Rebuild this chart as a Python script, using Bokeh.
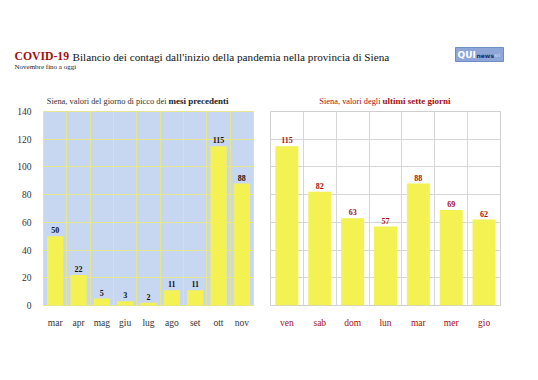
from bokeh.plotting import figure
from bokeh.layouts import column, row
from bokeh.models import Range1d, FixedTicker, ColumnDataSource
from bokeh.core.properties import value
from bokeh.embed import file_html
from bokeh.resources import INLINE

# ---- data ----
months = ["mar", "apr", "mag", "giu", "lug", "ago", "set", "ott", "nov"]
month_peaks = [50, 22, 5, 3, 2, 11, 11, 115, 88]
days = ["ven", "sab", "dom", "lun", "mar", "mer", "gio"]
day_values = [115, 82, 63, 57, 88, 69, 62]
y_ticks = [0, 20, 40, 60, 80, 100, 120, 140]

SERIF = value("Liberation Serif")
FONT = "Liberation Serif"
YELLOW = "#f4f152"
DARKRED = "#a50e0e"

# ---- header (title, subtitle, section titles, logo) ----
hdr = figure(width=530, height=107, x_range=Range1d(0, 530), y_range=Range1d(107, 0),
             output_backend="svg", toolbar_location=None, min_border=0)
hdr.axis.visible = False
hdr.grid.visible = False
hdr.outline_line_color = None

hdr.text(x=[14], y=[56], text=["COVID-19"], text_font=SERIF, text_font_size="11.7px",
         text_font_style="bold", text_color=DARKRED, text_baseline="alphabetic")
hdr.text(x=[72], y=[56], text=["Bilancio dei contagi dall'inizio della pandemia nella provincia di Siena"],
         text_font=SERIF, text_font_size="11.2px", text_color="#111111", text_baseline="alphabetic")
hdr.text(x=[14], y=[66], text=["Novembre fino a oggi"], text_font=SERIF, text_font_size="7px",
         text_color="#222222", text_baseline="alphabetic")

hdr.text(x=[166], y=[100.5], text=["Siena, valori del giorno di picco dei"], text_font=SERIF,
         text_font_size="8.4px", text_color="#333333", text_align="right", text_baseline="alphabetic")
hdr.text(x=[168], y=[100.5], text=["mesi precedenti"], text_font=SERIF, text_font_size="9px",
         text_font_style="bold", text_color="#222222", text_align="left", text_baseline="alphabetic")
hdr.text(x=[380], y=[100.5], text=["Siena, valori degli"], text_font=SERIF,
         text_font_size="8.4px", text_color=DARKRED, text_align="right", text_baseline="alphabetic")
hdr.text(x=[382], y=[100.5], text=["ultimi sette giorni"], text_font=SERIF, text_font_size="9px",
         text_font_style="bold", text_color=DARKRED, text_align="left", text_baseline="alphabetic")

# logo
hdr.quad(left=[455], right=[503], top=[47], bottom=[61], fill_color="#8ea7d8",
         line_color="#6f8cc4", line_width=1)
hdr.text(x=[457], y=[54], text=["QUI"], text_font=value("DejaVu Sans"), text_font_size="9px",
         text_font_style="bold", text_color="white", text_baseline="middle")
hdr.text(x=[476], y=[55], text=["news"], text_font=value("DejaVu Sans"), text_font_size="6px",
         text_font_style="bold", text_color="#1c2f66", text_baseline="middle")
hdr.text(x=[494], y=[55], text=["srl"], text_font=value("DejaVu Sans"), text_font_size="4.5px",
         text_color="#dde6f7", text_baseline="middle")


def make_chart(cats, vals, width, border_left, border_right, bg, grid_color, outline,
               label_color, tick_color, show_y):
    n = len(cats)
    centers = [i + 0.5 for i in range(n)]
    src = ColumnDataSource(dict(x=centers, v=vals, t=[str(v) for v in vals]))
    p = figure(width=width, height=233, x_range=Range1d(0, n), y_range=Range1d(0, 140),
               output_backend="svg", toolbar_location=None,
               min_border_left=border_left, min_border_right=border_right,
               min_border_top=4, min_border_bottom=35)
    p.background_fill_color = bg
    p.border_fill_color = "white"
    p.outline_line_color = outline
    p.vbar(x="x", top="v", width=0.7, bottom=0, source=src, fill_color=YELLOW, line_color=None)
    p.text(x="x", y="v", text="t", source=src, text_font=SERIF, text_font_size="8px",
           text_font_style="bold", text_color=label_color, text_align="center",
           text_baseline="bottom", y_offset=-3)
    p.xaxis.ticker = FixedTicker(ticks=centers)
    p.xaxis.major_label_overrides = {c: lab for c, lab in zip(centers, cats)}
    p.xaxis.major_label_text_font = FONT
    p.xaxis.major_label_text_font_size = "9.5px"
    p.xaxis.major_label_text_color = tick_color
    p.xaxis.axis_line_color = None
    p.xaxis.major_tick_line_color = None
    p.xaxis.minor_tick_line_color = None
    p.xaxis.major_label_standoff = 6
    p.xgrid.ticker = FixedTicker(ticks=list(range(1, n)))
    p.xgrid.grid_line_color = grid_color
    p.yaxis.ticker = FixedTicker(ticks=y_ticks)
    p.ygrid.ticker = FixedTicker(ticks=y_ticks)
    p.ygrid.grid_line_color = grid_color
    p.yaxis.axis_line_color = None
    p.yaxis.major_tick_line_color = None
    p.yaxis.minor_tick_line_color = None
    p.yaxis.major_label_text_font = FONT
    p.yaxis.major_label_text_font_size = "9.5px"
    p.yaxis.major_label_text_color = "#333333"
    p.yaxis.major_label_standoff = 6
    if not show_y:
        p.yaxis.visible = False
    return p


left = make_chart(months, month_peaks, 262, 43, 9, "#c8d7f1", "#e6e68c", "#e6e68c",
                  "#111111", "#333333", True)
right = make_chart(days, day_values, 268, 8, 30, "white", "#d6d6d6", "#cfcfcf",
                   DARKRED, DARKRED, False)

layout = column(hdr, row(left, right, spacing=0), spacing=0)
open("out.html", "w").write(file_html(layout, INLINE))
